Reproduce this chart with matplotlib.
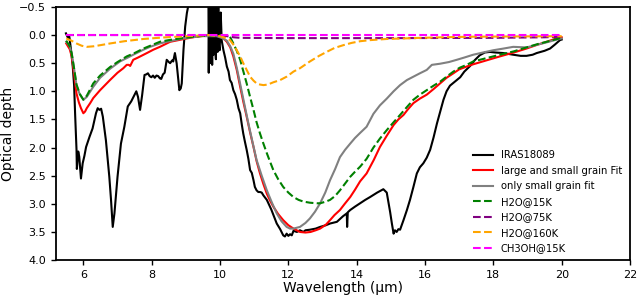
import matplotlib
matplotlib.use("Agg")
import matplotlib.pyplot as plt
import numpy as np

# ---------------- data ----------------
obs_x = [5.49, 5.55, 5.59, 5.64, 5.69, 5.73, 5.76, 5.80, 5.81, 5.85,
         5.88, 5.93, 5.98, 6.03, 6.08, 6.18, 6.27, 6.37, 6.42, 6.47,
         6.52, 6.57, 6.66, 6.76, 6.81, 6.86, 6.91, 7.00, 7.10, 7.20,
         7.30, 7.40, 7.49, 7.55, 7.60, 7.66, 7.72, 7.79, 7.84, 7.89,
         7.94, 7.99, 8.04, 8.09, 8.14, 8.19, 8.24, 8.28, 8.33, 8.38,
         8.44, 8.50, 8.54, 8.60, 8.63, 8.68, 8.73, 8.78, 8.81, 8.85,
         8.88, 8.93, 8.98, 9.03, 9.08, 9.20, 9.60, 9.66, 9.67, 9.69,
         9.70, 9.72, 9.73, 9.75, 9.77, 9.79, 9.81, 9.83, 9.85, 9.88,
         9.90, 9.93, 9.95, 9.97, 9.99, 10.02, 10.05, 10.10, 10.15, 10.20,
         10.25, 10.29, 10.34, 10.39, 10.44, 10.49, 10.54, 10.59, 10.64, 10.68,
         10.73, 10.78, 10.83, 10.88, 10.93, 10.98, 11.02, 11.07, 11.12, 11.17,
         11.22, 11.27, 11.37, 11.50, 11.66, 11.76, 11.85, 11.90, 11.95, 12.00,
         12.05, 12.10, 12.15, 12.25, 12.34, 12.44, 12.50, 12.63, 12.80, 12.93,
         13.10, 13.22, 13.42, 13.60, 13.71, 13.72, 13.74, 13.81, 13.95, 14.10,
         14.25, 14.39, 14.60, 14.78, 14.88, 14.98, 15.03, 15.08, 15.12, 15.17,
         15.22, 15.27, 15.37, 15.47, 15.56, 15.66, 15.76, 15.85, 15.95, 16.05,
         16.15, 16.25, 16.35, 16.45, 16.54, 16.63, 16.73, 16.83, 16.93, 17.03,
         17.15, 17.32, 17.45, 17.60, 17.75, 17.90, 18.05, 18.29, 18.58, 18.80,
         18.97, 19.15, 19.27, 19.50, 19.66, 19.80, 19.95, 20.00]
obs_y = [-0.03, 0.05, 0.03, 0.27, 0.56, 0.90, 1.42, 2.04, 2.38, 2.07,
         2.16, 2.55, 2.28, 2.15, 1.99, 1.81, 1.66, 1.39, 1.30, 1.33,
         1.31, 1.45, 1.87, 2.52, 2.93, 3.41, 3.17, 2.52, 1.93, 1.63,
         1.27, 1.18, 1.07, 1.00, 1.10, 1.33, 1.07, 0.71, 0.70, 0.68,
         0.73, 0.75, 0.72, 0.76, 0.72, 0.73, 0.77, 0.78, 0.70, 0.67,
         0.44, 0.48, 0.50, 0.45, 0.47, 0.32, 0.50, 0.80, 0.98, 0.95,
         0.86, 0.27, -0.15, -0.39, -0.55, -1.5, -1.5, -0.8, 0.67, -0.8,
         0.40, -0.8, 0.50, -0.8, 0.53, -0.8, 0.35, -0.8, 0.20, 0.43,
         -0.8, 0.30, -0.6, 0.20, 0.27, -0.4, 0.10, 0.27, 0.40, 0.56,
         0.65, 0.80, 0.85, 0.98, 1.05, 1.15, 1.30, 1.39, 1.60, 1.75,
         1.90, 2.04, 2.20, 2.40, 2.45, 2.58, 2.70, 2.76, 2.79, 2.79,
         2.80, 2.85, 2.93, 3.10, 3.35, 3.45, 3.56, 3.58, 3.53, 3.57,
         3.54, 3.56, 3.48, 3.50, 3.47, 3.50, 3.47, 3.46, 3.44, 3.41,
         3.38, 3.35, 3.32, 3.22, 3.17, 3.41, 3.15, 3.11, 3.05, 2.99,
         2.93, 2.88, 2.80, 2.74, 2.80, 3.15, 3.35, 3.53, 3.47, 3.50,
         3.45, 3.46, 3.29, 3.11, 2.93, 2.70, 2.46, 2.35, 2.28, 2.18,
         2.04, 1.82, 1.57, 1.35, 1.15, 1.00, 0.90, 0.85, 0.80, 0.75,
         0.65, 0.55, 0.45, 0.36, 0.31, 0.30, 0.31, 0.32, 0.35, 0.37,
         0.37, 0.35, 0.32, 0.28, 0.24, 0.17, 0.09, 0.08]

fit_x = [5.5, 5.6, 5.66, 5.73, 5.8, 5.87, 5.93, 6.0, 6.05, 6.1,
         6.2, 6.29, 6.49, 6.78, 7.0, 7.17, 7.27, 7.33, 7.37, 7.46,
         7.6, 7.86, 8.05, 8.24, 8.54, 9.03, 9.3, 9.61, 9.9, 10.0,
         10.1, 10.2, 10.3, 10.39, 10.49, 10.59, 10.68, 10.78, 10.88, 10.98,
         11.07, 11.17, 11.27, 11.37, 11.47, 11.56, 11.7, 11.85, 12.0, 12.15,
         12.34, 12.5, 12.65, 12.8, 12.93, 13.1, 13.22, 13.35, 13.51, 13.65,
         13.81, 13.95, 14.1, 14.29, 14.5, 14.68, 14.88, 15.08, 15.22, 15.37,
         15.5, 15.66, 15.85, 16.05, 16.25, 16.44, 16.63, 16.83, 17.0, 17.22,
         17.41, 17.8, 18.19, 18.6, 18.97, 19.3, 19.56, 19.8, 20.0]
fit_y = [0.15, 0.25, 0.38, 0.7, 1.04, 1.2, 1.3, 1.39, 1.36, 1.3,
         1.21, 1.12, 0.98, 0.8, 0.67, 0.59, 0.53, 0.53, 0.55, 0.44,
         0.4, 0.32, 0.26, 0.21, 0.12, 0.06, 0.03, 0.01, 0.01, 0.03,
         0.06, 0.12, 0.22, 0.38, 0.62, 0.92, 1.18, 1.45, 1.73, 1.99,
         2.24, 2.46, 2.65, 2.82, 2.95, 3.05, 3.18, 3.29, 3.38, 3.44,
         3.5, 3.51, 3.5, 3.47, 3.44, 3.37, 3.29, 3.2, 3.11, 3.0,
         2.88, 2.75, 2.6, 2.46, 2.22, 1.99, 1.79, 1.6, 1.5, 1.42,
         1.32, 1.21, 1.13, 1.06, 0.96, 0.86, 0.76, 0.68, 0.61, 0.56,
         0.52, 0.45, 0.38, 0.31, 0.24, 0.17, 0.12, 0.07, 0.04]

small_x = [5.5, 5.6, 5.66, 5.73, 5.8, 5.9, 6.0, 6.1, 6.29, 6.49,
           6.78, 7.07, 7.27, 7.46, 7.76, 7.95, 8.24, 8.44, 8.93, 9.42,
           9.9, 10.05, 10.2, 10.3, 10.39, 10.49, 10.59, 10.71, 10.83, 10.95,
           11.07, 11.22, 11.37, 11.52, 11.66, 11.8, 11.95, 12.05, 12.15, 12.34,
           12.5, 12.63, 12.78, 12.93, 13.08, 13.22, 13.37, 13.51, 13.66, 13.81,
           13.95, 14.1, 14.29, 14.49, 14.68, 14.88, 15.08, 15.27, 15.47, 15.66,
           15.85, 16.05, 16.2, 16.44, 16.7, 16.93, 17.15, 17.41, 17.7, 18.0,
           18.3, 18.58, 18.97, 19.3, 19.56, 19.8, 20.0]
small_y = [0.12, 0.2, 0.33, 0.6, 0.9, 1.06, 1.15, 1.1, 0.92, 0.76,
           0.6, 0.47, 0.41, 0.35, 0.26, 0.21, 0.15, 0.12, 0.06, 0.02,
           0.02, 0.05, 0.1, 0.2, 0.33, 0.58, 0.87, 1.22, 1.57, 1.9,
           2.22, 2.5, 2.76, 2.98, 3.17, 3.31, 3.41, 3.44, 3.44, 3.41,
           3.34, 3.26, 3.14, 2.99, 2.8, 2.58, 2.38, 2.17, 2.04, 1.93,
           1.83, 1.74, 1.63, 1.4, 1.25, 1.13, 1.0, 0.89, 0.8, 0.74,
           0.68, 0.62, 0.53, 0.51, 0.48, 0.44, 0.4, 0.35, 0.31, 0.27,
           0.24, 0.21, 0.22, 0.17, 0.13, 0.09, 0.06]

h2o15_x = [5.5, 5.6, 5.66, 5.73, 5.8, 5.9, 6.0, 6.1, 6.29, 6.49,
           6.78, 7.0, 7.27, 7.5, 7.76, 8.0, 8.24, 8.5, 8.73, 9.2,
           9.6, 10.0, 10.2, 10.29, 10.39, 10.49, 10.59, 10.68, 10.78, 10.88,
           10.98, 11.07, 11.17, 11.27, 11.37, 11.47, 11.56, 11.7, 11.85, 12.0,
           12.15, 12.3, 12.44, 12.63, 12.83, 12.93, 13.1, 13.22, 13.37, 13.51,
           13.66, 13.81, 13.95, 14.1, 14.29, 14.49, 14.68, 14.88, 15.08, 15.27,
           15.47, 15.66, 15.85, 16.05, 16.25, 16.44, 16.63, 16.83, 17.02, 17.22,
           17.41, 17.8, 18.19, 18.6, 18.97, 19.3, 19.56, 19.8, 20.0]
h2o15_y = [0.1, 0.2, 0.33, 0.6, 0.88, 1.05, 1.15, 1.08, 0.86, 0.72,
           0.57, 0.48, 0.38, 0.32, 0.24, 0.18, 0.12, 0.09, 0.07, 0.03,
           0.01, 0.0, 0.01, 0.03, 0.15, 0.28, 0.44, 0.64, 0.86, 1.1,
           1.33, 1.55, 1.75, 1.93, 2.1, 2.26, 2.4, 2.56, 2.7, 2.8,
           2.88, 2.93, 2.96, 2.98, 2.99, 2.99, 2.96, 2.93, 2.86, 2.76,
           2.64, 2.52, 2.43, 2.34, 2.2, 2.0, 1.84, 1.69, 1.55, 1.42,
           1.28, 1.15, 1.06, 0.98, 0.9, 0.83, 0.74, 0.65, 0.58, 0.53,
           0.47, 0.41, 0.35, 0.29, 0.22, 0.16, 0.12, 0.08, 0.05]

h2o75_x = [5.5, 9.8, 10.0, 10.2, 10.4, 10.6, 12.0, 15.0, 18.0, 19.5, 20.0]
h2o75_y = [0.0, 0.0, 0.005, 0.02, 0.04, 0.05, 0.055, 0.055, 0.05, 0.04, 0.03]

h2o160_x = [5.5, 5.65, 5.8, 5.95, 6.1, 6.3, 6.5, 6.78, 7.2, 7.76,
            8.3, 8.73, 9.2, 9.7, 10.0, 10.15, 10.29, 10.39, 10.49, 10.59,
            10.68, 10.78, 10.88, 10.98, 11.07, 11.17, 11.27, 11.4, 11.56, 11.76,
            11.95, 12.15, 12.34, 12.63, 12.9, 13.12, 13.35, 13.61, 13.85, 14.1,
            14.4, 14.88, 15.4, 15.85, 16.5, 17.3, 18.5, 20.0]
h2o160_y = [0.06, 0.1, 0.15, 0.19, 0.21, 0.2, 0.18, 0.15, 0.11, 0.07,
            0.045, 0.03, 0.015, 0.0, 0.02, 0.05, 0.09, 0.17, 0.27, 0.38,
            0.5, 0.62, 0.74, 0.81, 0.86, 0.88, 0.89, 0.88, 0.84, 0.8,
            0.74, 0.65, 0.59, 0.47, 0.37, 0.3, 0.23, 0.18, 0.14, 0.11,
            0.09, 0.07, 0.06, 0.05, 0.04, 0.03, 0.025, 0.02]

ch3oh_x = [5.5, 10.0, 15.0, 20.0]
ch3oh_y = [0.0, 0.0, 0.0, 0.0]

labels = ["IRAS18089", "large and small grain Fit", "only small grain fit",
          "H2O@15K", "H2O@75K", "H2O@160K", "CH3OH@15K"]

# ---------------- plot ----------------
plt.rcParams['font.family'] = ['DejaVu Sans']
fig = plt.figure(figsize=(6.38, 3.0), dpi=100)
ax = fig.add_axes([0.0878, 0.133, 0.8997, 0.844])

ax.plot(obs_x, obs_y, color='black', lw=1.5, label=labels[0])
ax.plot(fit_x, fit_y, color='red', lw=1.5, label=labels[1])
ax.plot(small_x, small_y, color='grey', lw=1.5, label=labels[2])
ax.plot(h2o15_x, h2o15_y, color='green', lw=1.5, ls='--', label=labels[3])
ax.plot(h2o75_x, h2o75_y, color='purple', lw=1.5, ls='--', label=labels[4])
ax.plot(h2o160_x, h2o160_y, color='orange', lw=1.5, ls='--', label=labels[5])
ax.plot(ch3oh_x, ch3oh_y, color='magenta', lw=1.5, ls='--', label=labels[6])

ax.set_xlim(5.2, 22)
ax.set_ylim(4.0, -0.5)
ax.set_xticks([6, 8, 10, 12, 14, 16, 18, 20, 22])
ax.set_yticks(np.arange(-0.5, 4.01, 0.5))
ax.tick_params(labelsize=8, width=1.0, length=3.5)
for s in ax.spines.values():
    s.set_linewidth(1.3)

ax.set_xlabel("Wavelength (µm)", fontsize=10, labelpad=1)
ax.set_ylabel("Optical depth", fontsize=10, labelpad=3)

ax.legend(loc='upper left', bbox_to_anchor=(0.71, 0.47), frameon=False,
          fontsize=7.2, handlelength=2.0, labelspacing=0.55, borderpad=0.4)

fig.savefig("out.png", dpi=100)
